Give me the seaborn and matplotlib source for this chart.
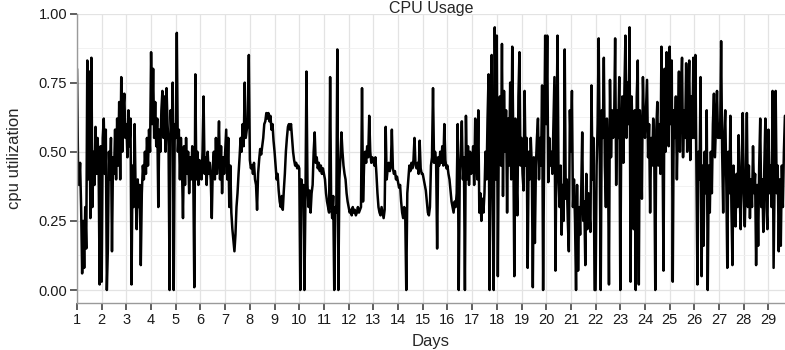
import numpy as np
import pandas as pd
import matplotlib
matplotlib.use("Agg")
import matplotlib.pyplot as plt
import seaborn as sns
from matplotlib.ticker import MultipleLocator

# cpu utilization, hourly samples (24 per day), starting day 1 00:00
week1 = [
    0.80, 0.45, 0.38, 0.46, 0.30, 0.06, 0.25, 0.08, 0.30, 0.15, 0.83, 0.40, 0.79, 0.26, 0.84, 0.30, 0.50, 0.38, 0.59, 0.42, 0.55, 0.45, 0.02, 0.52,  # day 1
    0.03, 0.55, 0.62, 0.42, 0.58, 0.00, 0.15, 0.50, 0.40, 0.55, 0.14, 0.48, 0.42, 0.58, 0.40, 0.62, 0.45, 0.68, 0.40, 0.77, 0.50, 0.65, 0.71, 0.55,  # day 2
    0.60, 0.48, 0.65, 0.52, 0.62, 0.02, 0.45, 0.30, 0.60, 0.35, 0.22, 0.40, 0.30, 0.38, 0.09, 0.35, 0.45, 0.40, 0.50, 0.42, 0.55, 0.45, 0.58, 0.50,  # day 3
    0.86, 0.60, 0.80, 0.55, 0.68, 0.52, 0.62, 0.30, 0.58, 0.50, 0.65, 0.72, 0.55, 0.70, 0.50, 0.73, 0.60, 0.52, 0.00, 0.65, 0.55, 0.75, 0.00, 0.60,  # day 4
    0.55, 0.93, 0.50, 0.58, 0.40, 0.55, 0.45, 0.26, 0.52, 0.38, 0.55, 0.42, 0.50, 0.35, 0.48, 0.40, 0.52, 0.42, 0.01, 0.78, 0.40, 0.50, 0.38, 0.47,  # day 5
    0.45, 0.40, 0.50, 0.70, 0.42, 0.48, 0.38, 0.50, 0.42, 0.46, 0.40, 0.26, 0.45, 0.50, 0.40, 0.55, 0.42, 0.48, 0.61, 0.40, 0.52, 0.35, 0.48, 0.42,  # day 6
    0.50, 0.58, 0.40, 0.55, 0.30, 0.45, 0.28, 0.22, 0.18, 0.14, 0.20, 0.30, 0.35, 0.42, 0.48, 0.55, 0.50, 0.60, 0.52, 0.75, 0.55, 0.58, 0.60, 0.85,  # day 7
]
week2 = [
    0.47, 0.44, 0.45, 0.42, 0.46, 0.40, 0.38, 0.29, 0.42, 0.47, 0.51, 0.49, 0.52, 0.55, 0.60, 0.61, 0.64, 0.62, 0.64, 0.61, 0.63, 0.58, 0.60, 0.54,  # day 8
    0.50, 0.45, 0.40, 0.42, 0.36, 0.32, 0.30, 0.34, 0.29, 0.36, 0.42, 0.50, 0.55, 0.59, 0.60, 0.58, 0.60, 0.55, 0.50, 0.47, 0.45, 0.46, 0.44, 0.45,  # day 9
    0.44, 0.00, 0.40, 0.35, 0.38, 0.00, 0.32, 0.79, 0.38, 0.30, 0.36, 0.28, 0.35, 0.38, 0.50, 0.57, 0.46, 0.48, 0.44, 0.46, 0.43, 0.45, 0.42, 0.44,  # day 10
    0.42, 0.40, 0.35, 0.32, 0.30, 0.28, 0.77, 0.32, 0.26, 0.34, 0.00, 0.30, 0.28, 0.87, 0.00, 0.40, 0.48, 0.57, 0.50, 0.45, 0.42, 0.40, 0.35, 0.32,  # day 11
    0.30, 0.28, 0.29, 0.27, 0.30, 0.28, 0.29, 0.27, 0.28, 0.30, 0.28, 0.29, 0.30, 0.73, 0.32, 0.45, 0.50, 0.46, 0.52, 0.48, 0.63, 0.50, 0.46, 0.48,  # day 12
    0.47, 0.45, 0.48, 0.42, 0.35, 0.30, 0.28, 0.27, 0.30, 0.28, 0.26, 0.29, 0.59, 0.40, 0.44, 0.46, 0.43, 0.45, 0.58, 0.44, 0.42, 0.43, 0.40, 0.41,  # day 13
    0.39, 0.37, 0.38, 0.32, 0.28, 0.26, 0.30, 0.27, 0.00, 0.35, 0.40, 0.45, 0.43, 0.46, 0.44, 0.47, 0.55, 0.45, 0.44, 0.46, 0.42, 0.54, 0.44, 0.42,  # day 14
]
week3 = [
    0.42, 0.40, 0.38, 0.36, 0.32, 0.28, 0.27, 0.30, 0.45, 0.48, 0.73, 0.46, 0.50, 0.47, 0.15, 0.48, 0.45, 0.50, 0.46, 0.52, 0.45, 0.60, 0.47, 0.44,  # day 15
    0.45, 0.42, 0.40, 0.36, 0.32, 0.30, 0.28, 0.32, 0.30, 0.35, 0.60, 0.00, 0.42, 0.50, 0.61, 0.40, 0.48, 0.00, 0.63, 0.40, 0.52, 0.38, 0.50, 0.42,  # day 16
    0.45, 0.52, 0.38, 0.62, 0.48, 0.40, 0.65, 0.28, 0.35, 0.25, 0.33, 0.28, 0.35, 0.50, 0.40, 0.62, 0.78, 0.00, 0.55, 0.85, 0.35, 0.00, 0.95, 0.40,  # day 17
    0.92, 0.05, 0.60, 0.70, 0.45, 0.89, 0.34, 0.72, 0.50, 0.65, 0.28, 0.62, 0.45, 0.75, 0.40, 0.88, 0.55, 0.05, 0.62, 0.40, 0.27, 0.70, 0.86, 0.45,  # day 18
    0.55, 0.42, 0.36, 0.72, 0.45, 0.55, 0.08, 0.50, 0.40, 0.55, 0.45, 0.01, 0.48, 0.17, 0.45, 0.55, 0.62, 0.40, 0.55, 0.45, 0.74, 0.00, 0.50, 0.92,  # day 19
    0.60, 0.92, 0.39, 0.55, 0.45, 0.50, 0.42, 0.60, 0.77, 0.07, 0.55, 0.92, 0.40, 0.30, 0.45, 0.20, 0.38, 0.25, 0.87, 0.33, 0.40, 0.25, 0.14, 0.65,  # day 20
    0.50, 0.72, 0.30, 0.40, 0.25, 0.00, 0.38, 0.07, 0.30, 0.20, 0.35, 0.57, 0.25, 0.32, 0.09, 0.42, 0.22, 0.35, 0.28, 0.21, 0.74, 0.40, 0.55, 0.00,  # day 21
]
week4 = [
    0.00, 0.45, 0.60, 0.91, 0.50, 0.00, 0.65, 0.55, 0.84, 0.45, 0.30, 0.62, 0.50, 0.02, 0.76, 0.48, 0.65, 0.55, 0.60, 0.91, 0.38, 0.65, 0.55, 0.77,  # day 22
    0.00, 0.60, 0.70, 0.46, 0.72, 0.92, 0.55, 0.75, 0.60, 0.95, 0.03, 0.70, 0.55, 0.22, 0.65, 0.00, 0.70, 0.83, 0.02, 0.65, 0.55, 0.33, 0.77, 0.60,  # day 23
    0.55, 0.65, 0.76, 0.48, 0.60, 0.28, 0.55, 0.45, 0.62, 0.50, 0.00, 0.58, 0.68, 0.45, 0.60, 0.42, 0.88, 0.55, 0.07, 0.80, 0.50, 0.86, 0.60, 0.52,  # day 24
    0.88, 0.60, 0.83, 0.03, 0.65, 0.55, 0.70, 0.40, 0.62, 0.79, 0.50, 0.70, 0.84, 0.48, 0.65, 0.55, 0.82, 0.50, 0.68, 0.83, 0.47, 0.70, 0.55, 0.84,  # day 25
    0.55, 0.85, 0.45, 0.02, 0.50, 0.40, 0.77, 0.05, 0.45, 0.16, 0.50, 0.35, 0.65, 0.00, 0.45, 0.28, 0.50, 0.35, 0.60, 0.71, 0.48, 0.60, 0.72, 0.55,  # day 26
    0.60, 0.55, 0.90, 0.50, 0.28, 0.55, 0.65, 0.40, 0.08, 0.50, 0.35, 0.63, 0.30, 0.09, 0.45, 0.30, 0.23, 0.42, 0.30, 0.56, 0.35, 0.22, 0.45, 0.64,  # day 27
    0.35, 0.23, 0.40, 0.64, 0.30, 0.45, 0.26, 0.40, 0.30, 0.52, 0.35, 0.42, 0.09, 0.38, 0.16, 0.45, 0.62, 0.30, 0.40, 0.21, 0.45, 0.62, 0.30, 0.22,  # day 28
]
week5 = [
    0.58, 0.35, 0.45, 0.30, 0.72, 0.08, 0.40, 0.72, 0.35, 0.45, 0.14, 0.40, 0.16, 0.45, 0.30, 0.50, 0.63,  # day 29 (partial)
]
samples_per_day = 24
day_ticks = list(range(1, 30))
y_ticks = [0.00, 0.25, 0.50, 0.75, 1.00]

util = week1 + week2 + week3 + week4 + week5
df = pd.DataFrame({"day": 1 + np.arange(len(util)) / samples_per_day, "cpu": util})

sns.set_theme(style="whitegrid")
plt.rcParams["font.family"] = ["Liberation Sans", "DejaVu Sans"]

fig = plt.figure(figsize=(7.85, 3.5), dpi=100)
ax = fig.add_axes([77 / 785, 1 - 303 / 350, 1 - 77 / 785, (303 - 13.5) / 350])

sns.lineplot(data=df, x="day", y="cpu", color="black", linewidth=1.8, estimator=None, ax=ax)

ax.set_xlim(1, 29.67)
ax.set_ylim(-0.047, 1.0)
ax.set_xticks(day_ticks)
ax.set_yticks(y_ticks)
ax.set_yticklabels([f"{v:.2f}" for v in y_ticks])
ax.yaxis.set_minor_locator(MultipleLocator(0.125))
ax.grid(True, which="major", color="#e3e3e3", linewidth=0.9)
ax.grid(True, which="minor", axis="y", color="#f0f0f0", linewidth=0.6)
ax.set_axisbelow(True)
ax.set_facecolor("white")

for s in ["top", "right"]:
    ax.spines[s].set_visible(False)
for s in ["left", "bottom"]:
    ax.spines[s].set_color("#9a9a9a")
    ax.spines[s].set_linewidth(1.0)

ax.tick_params(axis="both", which="major", direction="out", length=5, width=1.1,
               color="#333333", labelsize=10.5, labelcolor="#1a1a1a", pad=2,
               bottom=True, left=True)
ax.tick_params(axis="both", which="minor", length=0)

ax.set_xlabel("Days", fontsize=12, labelpad=5)
ax.set_ylabel("cpu utilization", fontsize=12, labelpad=12)

fig.text(431 / 785, 1 - 12.5 / 350, "CPU Usage", ha="center", va="baseline", fontsize=11.5)

fig.savefig("out.png", dpi=100)
